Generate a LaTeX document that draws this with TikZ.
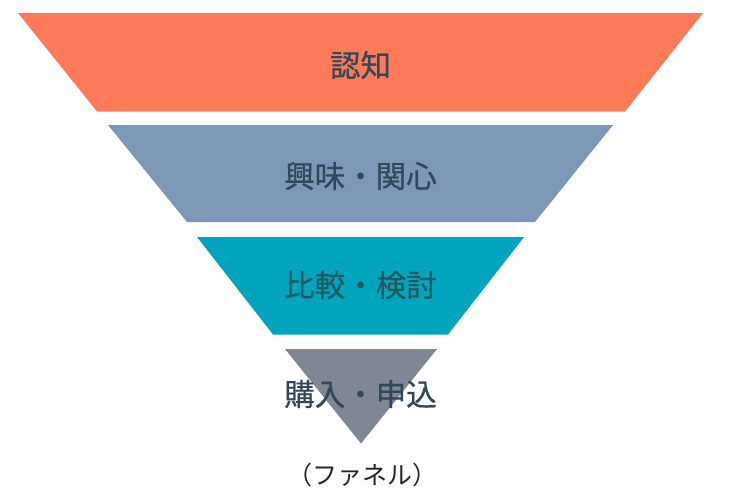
\documentclass[tikz,border=0pt]{standalone}
\usepackage{fontspec}
\newfontfamily\jpfont[FakeBold=0.6]{Noto Sans CJK JP}
\newfontfamily\jpcaption{Noto Sans CJK JP}
\definecolor{ninchiC}{HTML}{FF7A59}
\definecolor{kyomiC}{HTML}{7C98B6}
\definecolor{hikakuC}{HTML}{00A4BD}
\definecolor{konyuC}{HTML}{7E8793}
\definecolor{labelC}{HTML}{33475B}
\definecolor{labeltealC}{HTML}{1E5C62}

\begin{document}
\begin{tikzpicture}[x=1pt,y=-1pt]
      \tikzstyle{every node}+=[inner sep=0pt, text=labelC, font=\jpfont\fontsize{30.5}{36}\selectfont]
      \useasboundingbox (0,0) rectangle (730,496);
      \fill [ninchiC] (18,13) -- (703,13) -- (625,111.5) -- (97,111.5) -- cycle;
      \fill [kyomiC] (108,125) -- (613,125) -- (535,222) -- (187,222) -- cycle;
      \fill [hikakuC] (197,237) -- (524,237) -- (448,334.5) -- (273,334.5) -- cycle;
      \fill [konyuC] (285,349) -- (437,349) -- (361,443.5) -- cycle;
      \draw (360.5,65) node (ninchi) {認知};
      \draw (360.5,176) node (kyomi) {興味・関心};
      \draw (360.5,285) node [text=labeltealC] (hikaku) {比較・検討};
      \draw (360.5,394) node (konyu) {購入・申込};
      \draw (362,475) node [text=black!85, font=\jpcaption\fontsize{25}{30}\selectfont] (funnel) {（ファネル）};
    \end{tikzpicture}
\end{document}
